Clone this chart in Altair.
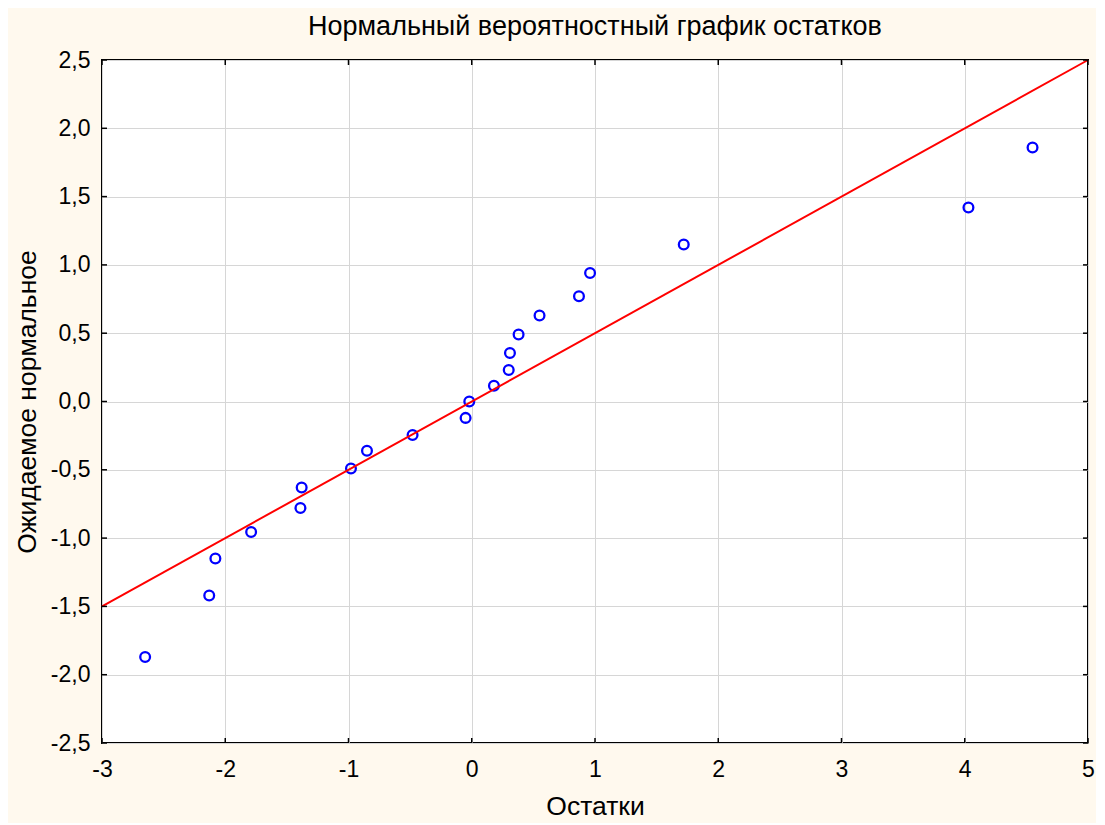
import pandas as pd
import altair as alt

# residuals (x) and expected normal values (y)
resid = [-2.65, -2.13, -2.08, -1.79, -1.39, -1.38, -0.98, -0.85, -0.48, -0.05, -0.02,
         0.18, 0.30, 0.31, 0.38, 0.55, 0.87, 0.96, 1.72, 4.03, 4.55]
expected = [-1.87, -1.42, -1.15, -0.955, -0.78, -0.63, -0.49, -0.36, -0.245, -0.12, 0.0,
            0.115, 0.23, 0.355, 0.49, 0.63, 0.77, 0.94, 1.15, 1.42, 1.86]

# reference line ends
line_x = [-3, 5]
line_y = [-1.5, 2.5]

x_ticks = [-3, -2, -1, 0, 1, 2, 3, 4, 5]
y_ticks = [-2.5, -2.0, -1.5, -1.0, -0.5, 0.0, 0.5, 1.0, 1.5, 2.0, 2.5]

W, H = 986, 683
FONT = "Liberation Sans"
TL = 5  # inner tick length

pts = pd.DataFrame({"x": resid, "y": expected})
ln = pd.DataFrame({"x": line_x, "y": line_y})
xt = pd.DataFrame({"v": x_ticks})
yt = pd.DataFrame({"v": y_ticks})

x_scale = alt.Scale(domain=[-3, 5], nice=False, zero=False)
y_scale = alt.Scale(domain=[-2.5, 2.5], nice=False, zero=False)

x_axis = alt.Axis(
    values=x_ticks,
    labelExpr="(datum.value < 0 ? '-' : '') + format(abs(datum.value), 'd')",
    labelPadding=15, titlePadding=12, labelFlush=False,
)
y_axis = alt.Axis(
    values=y_ticks,
    labelExpr="(datum.value < 0 ? '-' : '') + replace(format(abs(datum.value), '.1f'), '.', ',')",
    labelPadding=12, titlePadding=9, labelFlush=False,
)

points = (
    alt.Chart(pts)
    .mark_point(shape="circle", filled=False, color="#0000FF", size=95, strokeWidth=2.3, opacity=1)
    .encode(
        x=alt.X("x:Q", title="Остатки", scale=x_scale, axis=x_axis),
        y=alt.Y("y:Q", title="Ожидаемое нормальное", scale=y_scale, axis=y_axis),
    )
)

fit = (
    alt.Chart(ln)
    .mark_line(color="#FF0000", strokeWidth=2)
    .encode(x=alt.X("x:Q", scale=x_scale), y=alt.Y("y:Q", scale=y_scale))
)

# ticks pointing inward on all four sides
left_ticks = alt.Chart(yt).mark_rule(color="black", strokeWidth=1.5).encode(
    y=alt.Y("v:Q", scale=y_scale), x=alt.value(0), x2=alt.value(TL))
right_ticks = alt.Chart(yt).mark_rule(color="black", strokeWidth=1.5).encode(
    y=alt.Y("v:Q", scale=y_scale), x=alt.value(W - TL), x2=alt.value(W))
bottom_ticks = alt.Chart(xt).mark_rule(color="black", strokeWidth=1.5).encode(
    x=alt.X("v:Q", scale=x_scale), y=alt.value(H - TL), y2=alt.value(H))
top_ticks = alt.Chart(xt).mark_rule(color="black", strokeWidth=1.5).encode(
    x=alt.X("v:Q", scale=x_scale), y=alt.value(0), y2=alt.value(TL))

chart = (
    alt.layer(points, fit, left_ticks, right_ticks, bottom_ticks, top_ticks)
    .properties(
        width=W, height=H,
        title=alt.TitleParams(
            "Нормальный вероятностный график остатков",
            font=FONT, fontSize=27, fontWeight="normal", color="black",
            anchor="middle", offset=8,
        ),
        autosize=alt.AutoSizeParams(type="none"),
        padding={"left": 94, "top": 52, "right": 8, "bottom": 80},
        background="#FFF9EE",
    )
    .configure_view(stroke="black", strokeWidth=2, fill="white")
    .configure_axis(
        labelFont=FONT, labelFontSize=23, labelColor="black",
        titleFont=FONT, titleFontSize=26.5, titleFontWeight="normal", titleColor="black",
        domain=False, ticks=False,
        grid=True, gridColor="#D6D6D6", gridWidth=1,
    )
)

chart.save("out.html", embed_options={"renderer": "svg", "actions": False})
